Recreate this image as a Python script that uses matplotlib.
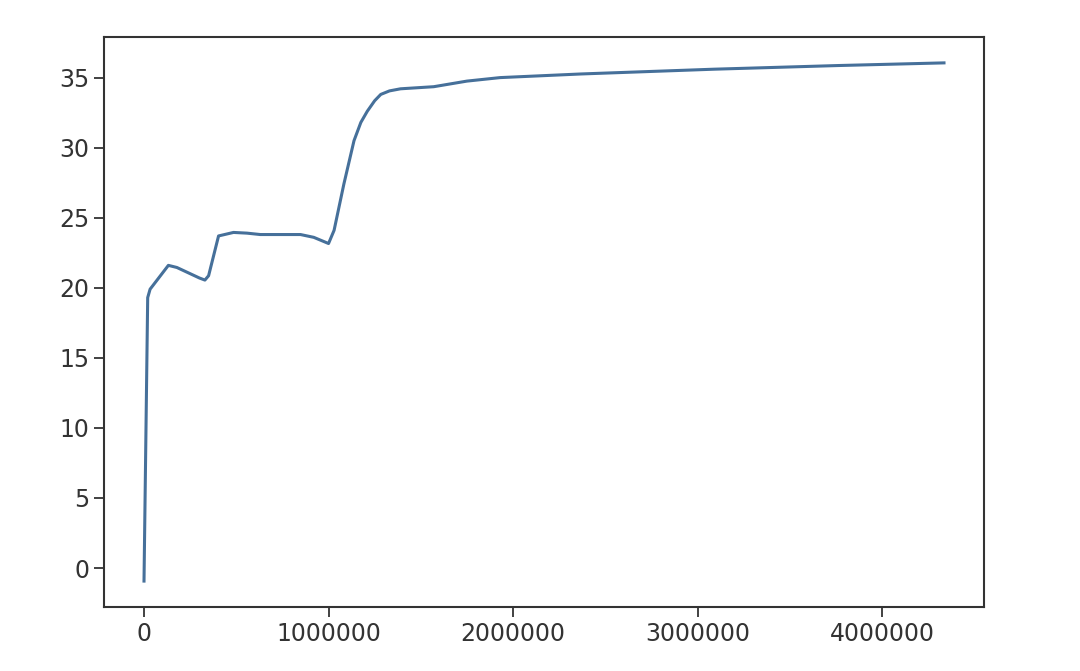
import matplotlib
matplotlib.use('Agg')
import matplotlib.pyplot as plt

# values
steps = [0, 20000, 33000, 132000, 178000, 300000, 330000, 350000, 404000,
         485000, 558000, 630000, 848000, 920000, 1000000, 1030000, 1083000,
         1138000, 1175000, 1210000, 1250000, 1283000, 1330000, 1390000,
         1570000, 1750000, 1930000, 2370000, 3090000, 3760000, 4335000]
score = [-0.93, 19.3, 19.9, 21.6, 21.45, 20.7, 20.55, 20.86, 23.7,
         23.95, 23.9, 23.8, 23.8, 23.6, 23.16, 24.1, 27.4,
         30.5, 31.8, 32.6, 33.35, 33.8, 34.05, 34.2,
         34.35, 34.75, 35.0, 35.26, 35.6, 35.86, 36.05]

plt.rcParams['font.size'] = 17

fig = plt.figure(figsize=(10.8, 6.71), dpi=100)
ax = fig.add_axes([0.0963, 0.0954, 0.8148, 0.8495])
ax.plot(steps, score, color='#46709a', linewidth=2.2)

ax.set_xticks([0, 1000000, 2000000, 3000000, 4000000])
ax.set_xticklabels(['0', '1000000', '2000000', '3000000', '4000000'])
ax.set_yticks([0, 5, 10, 15, 20, 25, 30, 35])

for s in ax.spines.values():
    s.set_linewidth(1.5)
    s.set_color('#333333')
ax.tick_params(length=7, width=1.3, colors='#333333', labelcolor='#333333')

fig.savefig('out.png', dpi=100)
